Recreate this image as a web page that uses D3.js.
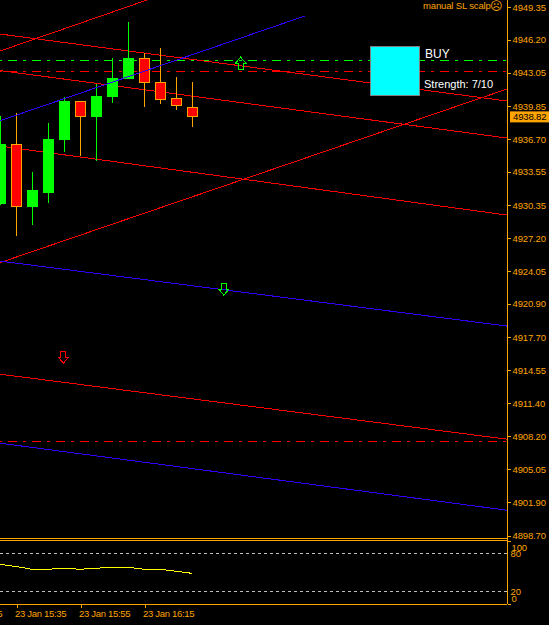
<!DOCTYPE html>
<html>
<head>
<meta charset="utf-8">
<script src="https://cdn.jsdelivr.net/npm/d3@7"></script>
<style>
  html, body { margin: 0; padding: 0; background: #fff; }
  svg { display: block; background: #000; }
  text { font-family: "Liberation Sans", sans-serif; font-size: 9.5px; letter-spacing: -0.15px; fill: #ffa500; }
</style>
</head>
<body>
<svg id="chart" width="549" height="625"></svg>
<script>
// bars are 5 min apart, bar 0 = 15:30
const barTimes = ['15:30','15:35','15:40','15:45','15:50','15:55','16:00','16:05','16:10','16:15','16:20','16:25','16:30'];
const opens  = [4930.56,4936.21,4930.22,4931.61,4936.65,4940.29,4938.85,4940.77,4942.45,4944.41,4942.11,4940.58,4939.71];
const highs  = [4938.90,4939.19,4933.53,4938.23,4940.72,4940.29,4941.97,4944.46,4947.91,4944.94,4945.42,4942.64,4942.16];
const lows   = [4930.37,4927.39,4928.45,4930.56,4935.45,4935.06,4934.58,4940.15,4942.45,4939.76,4940.05,4939.47,4937.85];
const closes = [4936.21,4930.22,4931.80,4936.69,4940.34,4938.85,4940.82,4942.45,4944.41,4942.11,4940.48,4939.91,4938.82];

const priceTicks = [4949.35,4946.20,4943.05,4939.85,4936.70,4933.55,4930.35,4927.20,4924.05,4920.90,4917.70,4914.55,4911.40,4908.20,4905.05,4901.90,4898.70];
const timeTickBars = [-3,1,5,9];
const timeTickLabels = ['23 Jan 15:15','23 Jan 15:35','23 Jan 15:55','23 Jan 16:15'];

// sloped channel lines: [bar, price, bar, price]
const redLines = [
  [0,4946.76,31.69,4940.34],
  [0,4943.26,31.69,4936.79],
  [0,4936.02,31.69,4929.41],
  [0,4914.16,31.69,4907.93],
  [0,4945.13,9.19,4950.02],
  [0,4924.85,31.69,4941.49]
];
const blueLines = [
  [0,4938.45,19.06,4948.49],
  [0,4925.00,31.69,4918.77],
  [0,4907.55,31.69,4901.12]
];
const greenLevel = 4944.22;
const redLevels = [4943.17,4907.69];

const buyArrow = [15.04,4943.98];
const sellArrows = [[13.99,4922.31],[3.96,4915.79]];

const oscBars   = [0,1,2,3,4,5,6,7,8,9,10,11,12];
const oscValues = [63,59.5,55.1,55.1,56.7,55.1,56.7,58.3,58.3,55.1,55.1,51.9,48.7];
const oscLevels = [80,20];
const oscTicks  = [100,80,20,0];

const orange = '#ffa500';
const svg = d3.select('#chart');
const axisX = 507;

const x = d3.scaleLinear().domain([0, 1]).range([0, 16]);
const y = d3.scaleLinear().domain([4949.35, 4898.70]).range([7, 535.5]);
const yOsc = d3.scaleLinear().domain([100, 0]).range([541, 604]);

const clip = svg.append('defs').append('clipPath').attr('id', 'main');
clip.append('rect').attr('width', axisX).attr('height', 538);

const plot = svg.append('g').attr('clip-path', 'url(#main)').attr('shape-rendering', 'crispEdges');

function drawLevel(price, color) {
  plot.append('line')
    .attr('x1', 0).attr('x2', axisX)
    .attr('y1', Math.floor(y(price)) + 0.5).attr('y2', Math.floor(y(price)) + 0.5)
    .attr('stroke', color).attr('stroke-width', 1)
    .attr('stroke-dasharray', '9,6,3,6')
    .attr('stroke-dashoffset', 16);
}
drawLevel(greenLevel, '#00ff00');
redLevels.forEach(d => drawLevel(d, '#ff0000'));

function drawSloped(rows, color) {
  plot.selectAll(null).data(rows).enter().append('line')
    .attr('x1', d => x(d[0])).attr('y1', d => y(d[1]))
    .attr('x2', d => x(d[2])).attr('y2', d => y(d[3]))
    .attr('stroke', color).attr('stroke-width', 1);
}
drawSloped(redLines, '#ff0000');

// candles
const candles = barTimes.map((t, i) => ({ t, i, o: opens[i], h: highs[i], l: lows[i], c: closes[i] }));
const up = d => d.c >= d.o;
const candle = plot.selectAll('g.candle').data(candles).enter().append('g').attr('class', 'candle');
candle.append('line')
  .attr('x1', d => x(d.i) + 0.5).attr('x2', d => x(d.i) + 0.5)
  .attr('y1', d => y(d.h)).attr('y2', d => y(d.l))
  .attr('stroke', d => up(d) ? '#00ff00' : orange);
candle.append('rect')
  .attr('x', d => x(d.i) - 4.5).attr('width', 10)
  .attr('y', d => y(Math.max(d.o, d.c)))
  .attr('height', d => Math.abs(y(d.o) - y(d.c)))
  .attr('fill', d => up(d) ? '#00ff00' : '#ff0000')
  .attr('stroke', d => up(d) ? '#00ff00' : orange);

drawSloped(blueLines, '#3300ff');

// signal arrows
const arrowUp = 'M-2.5,6V0H-5L0,-6L5,0H2.5V6Z';
const arrowDown = 'M-2.5,-6V0H-5L0,6L5,0H2.5V-6Z';
plot.append('path').attr('d', arrowUp)
  .attr('transform', `translate(${x(buyArrow[0])},${y(buyArrow[1])})`)
  .attr('fill', 'none').attr('stroke', '#00ff00');
plot.selectAll(null).data(sellArrows).enter().append('path').attr('d', arrowDown)
  .attr('transform', d => `translate(${x(d[0])},${y(d[1])})`)
  .attr('fill', 'none').attr('stroke', (d, i) => i === 0 ? '#00ff00' : '#ff0000');

// signal box
svg.append('rect').attr('x', 370.5).attr('y', 46.5).attr('width', 49).attr('height', 49)
  .attr('fill', '#00ffff').attr('stroke', '#808080');
svg.append('text').attr('x', 425).attr('y', 58).style('fill', '#fff').style('font-size', '12px').style('letter-spacing', '0').text('BUY');
svg.append('text').attr('x', 424).attr('y', 88).style('fill', '#fff').style('font-size', '11px').style('letter-spacing', '0').text('Strength: 7/10');
svg.append('text').attr('x', 423).attr('y', 9).text('manual SL scalp');
svg.append('text').attr('x', 490).attr('y', 10).style('font-family', '"DejaVu Sans"').style('font-size', '12px').style('letter-spacing', '0').text('\u2639');

// frame
const frame = svg.append('g').attr('stroke', orange).attr('shape-rendering', 'crispEdges');
frame.append('line').attr('x1', axisX + .5).attr('x2', axisX + .5).attr('y1', 0).attr('y2', 604);
[538.5, 540.5, 604.5].forEach(v => frame.append('line').attr('x1', 0).attr('x2', axisX).attr('y1', v).attr('y2', v));

// price axis
const yAxis = svg.append('g').attr('transform', `translate(${axisX + .5},0)`)
  .call(d3.axisRight(y).tickValues(priceTicks).tickFormat(d3.format('.2f')).tickSize(3).tickPadding(2));
yAxis.select('.domain').remove();
yAxis.selectAll('line').attr('stroke', orange).attr('shape-rendering', 'crispEdges');

// current price tag
const last = closes[closes.length - 1];
svg.append('rect').attr('x', 510).attr('y', y(last) - 5.5).attr('width', 39).attr('height', 11).attr('fill', orange);
svg.append('text').attr('x', 513).attr('y', y(last) + 3.5).style('fill', '#000').text(last.toFixed(2));

// time axis
const xAxis = svg.append('g').attr('transform', 'translate(0.5,604.5)')
  .call(d3.axisBottom(x).tickValues(timeTickBars).tickFormat((d, i) => timeTickLabels[i]).tickSize(3).tickPadding(2));
xAxis.select('.domain').remove();
xAxis.selectAll('line').attr('stroke', orange).attr('shape-rendering', 'crispEdges');
xAxis.selectAll('text').attr('text-anchor', 'start').attr('x', -2).attr('y', 6).style('letter-spacing', '-0.3px');

// oscillator
const osc = svg.append('g').attr('shape-rendering', 'crispEdges');
oscLevels.forEach(v => {
  osc.append('line').attr('x1', 0).attr('x2', axisX)
    .attr('y1', yOsc(v)).attr('y2', yOsc(v))
    .attr('stroke', '#c0c0c0').attr('stroke-dasharray', '3,3');
});
osc.append('path')
  .attr('d', d3.line().x((d, i) => x(oscBars[i])).y(d => yOsc(d))(oscValues))
  .attr('fill', 'none').attr('stroke', '#ffff00');

// 100 and 0 labels sit inside the pane, only those two have tick marks
const oscAxis = svg.append('g').attr('transform', `translate(${axisX + .5},0)`)
  .call(d3.axisRight(yOsc).tickValues(oscTicks).tickSize(3).tickPadding(0));
oscAxis.select('.domain').remove();
oscAxis.selectAll('line').attr('stroke', d => (d === 100 || d === 0) ? orange : 'none').attr('shape-rendering', 'crispEdges');
oscAxis.selectAll('text').attr('dy', d => d === 100 ? '0.95em' : d === 0 ? '-0.3em' : '0.32em')
  .attr('x', d => (d === 100 || d === 0) ? 4 : 3);
</script>
</body>
</html>
